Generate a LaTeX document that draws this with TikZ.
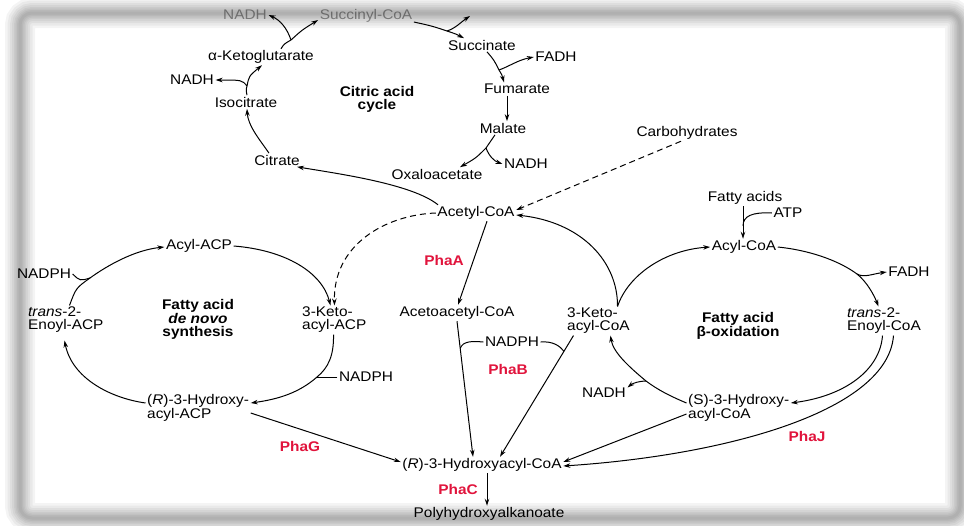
\documentclass[tikz,border=0pt]{standalone}
\usepackage{fontspec}
\setmainfont{Liberation Sans}[FakeStretch=1.1]
\usetikzlibrary{arrows.meta,calc}
\definecolor{phared}{RGB}{225,20,60}
\newcommand\fs{\fontsize{14}{13}\selectfont}
\begin{document}
\begin{tikzpicture}[x=1pt,y=-1pt,
  lbl/.style={inner sep=1.5pt,font=\fs},
  ml/.style={lbl,align=left,anchor=west},
  cl/.style={inner sep=1pt,font=\fs\bfseries,align=center},
  enz/.style={inner sep=1pt,font=\fs\bfseries,text=phared},
  arr/.style={line width=1pt,-{Stealth[length=7pt,width=4.5pt]}},
  ln/.style={line width=1pt},
  dsh/.style={arr,dash pattern=on 6pt off 4pt},
  faded/.style={lbl,text=black!40}]
\useasboundingbox (0,0) rectangle (964,525);
\fill[white] (0,0) rectangle (964,525);

% ---------- citric acid cycle ----------
\node[faded] (nadhA) at (245,15) {NADH};
\node[faded] (succoa) at (366,16) {Succinyl-CoA};
\node[lbl] (akg) at (261,57) {α-Ketoglutarate};
\node[lbl] (nadhB) at (192,80) {NADH};
\node[lbl] (isocit) at (246,102) {Isocitrate};
\node[lbl] (citrate) at (277,160) {Citrate};
\node[lbl] (oaa) at (437,174) {Oxaloacetate};
\node[lbl] (malate) at (503,128) {Malate};
\node[lbl] (nadhC) at (526,164) {NADH};
\node[lbl] (fumarate) at (517,89) {Fumarate};
\node[lbl] (succinate) at (482,45) {Succinate};
\node[lbl] (fadhA) at (556,57) {FADH};
\node[cl] (tca) at (377,99) {Citric acid\\cycle};

\draw[arr] ([xshift=-8pt]citrate.north) .. controls (260,140) and (248,126) .. ([xshift=1pt]isocit.south);

\coordinate (b1) at (247,86);
\draw[arr] ([xshift=1pt]isocit.north) .. controls (246,90) .. (b1) .. controls (249,76) .. ([xshift=1pt]akg.south);
\draw[arr] (b1) .. controls (242,80) .. (nadhB.east);

\coordinate (b2) at (291,40);
\draw[arr] ([xshift=20pt]akg.north) .. controls (284,44) .. (b2) .. controls (302,30) .. ([yshift=-4pt]succoa.west);
\draw[arr] (b2) .. controls (287,28) and (280,20) .. (nadhA.east);

\coordinate (b3) at (447,31);
\coordinate (e1) at (470,16);
\draw[arr] ([yshift=-6pt]succoa.east) .. controls (432,26) .. (b3) .. controls (456,34) .. ([xshift=-18pt]succinate.north);
\draw[arr] (b3) .. controls (456,28) and (461,22) .. (e1);

\coordinate (b4) at (499,70);
\draw[arr] ([xshift=5pt]succinate.south) .. controls (494,60) .. (b4) .. controls (502,75) .. ([xshift=-13pt]fumarate.north);
\draw[arr] (b4) .. controls (510,66) and (518,60) .. (fadhA.west);

\draw[arr] ([xshift=-10pt]fumarate.south) -- ([xshift=4pt]malate.north);

\coordinate (b5) at (486,148);
\draw[arr] ([xshift=-8pt]malate.south) .. controls (491,141) .. (b5) .. controls (476,158) .. ([xshift=23pt]oaa.north);
\draw[arr] (b5) .. controls (489,156) and (494,161) .. (nadhC.west);

% ---------- central nodes ----------
\node[lbl] (acetyl) at (476,213) {Acetyl-CoA};
\node[lbl] (carbo) at (687,133) {Carbohydrates};
\node[lbl] (acetoacetyl) at (457,313) {Acetoacetyl-CoA};
\node[lbl] (nadphC) at (512,342) {NADPH};
\node[lbl] (hydroxyacyl) at (482,465) {(\textit{R})-3-Hydroxyacyl-CoA};
\node[lbl] (pha) at (489,514) {Polyhydroxyalkanoate};
\node[enz] (phaA) at (444,260) {PhaA};
\node[enz] (phaB) at (508,369) {PhaB};
\node[enz] (phaG) at (300,446) {PhaG};
\node[enz] (phaJ) at (807,436) {PhaJ};
\node[enz] (phaC) at (458,489) {PhaC};

\draw[arr] ([xshift=-38pt]acetyl.north) .. controls (412,184) and (340,174) .. ([xshift=20pt]citrate.south);
\draw[dsh] ([xshift=-6pt]carbo.south) -- ([yshift=3pt]acetyl.east);
\draw[arr] ([xshift=11pt]acetyl.south) -- ([xshift=1pt]acetoacetyl.north);

% ---------- fatty acid de novo synthesis ----------
\node[lbl] (acylacp) at (199,246) {Acyl-ACP};
\node[lbl] (nadphA) at (44,274) {NADPH};
\node[ml] (enoylacp) at (26.5,320) {\textit{trans}-2-\\Enoyl-ACP};
\node[cl] (denovo) at (198,319) {Fatty acid\\\textit{de novo}\\synthesis};
\node[ml] (ketoacp) at (300.5,320) {3-Keto-\\acyl-ACP};
\node[lbl] (nadphB) at (366,377) {NADPH};
\node[ml] (hydroxyR) at (145.5,408) {(\textit{R})-3-Hydroxy-\\acyl-ACP};

\draw[dsh] (acetyl.west) .. controls (385,215) and (333,245) .. ([xshift=34pt]ketoacp.north west);

\coordinate (b7) at (90,278);
\draw[arr] ([xshift=43pt]enoylacp.north west) .. controls (76,288) .. (b7) .. controls (108,265) and (135,250) .. ([yshift=-1pt]acylacp.west);
\draw[ln] (nadphA.east) .. controls (80,281) .. (b7);

\draw[arr] (acylacp.east) .. controls (285,250) and (322,272) .. ([xshift=30pt]ketoacp.north west);

\coordinate (b8) at (317,377);
\draw[arr] ([xshift=33pt]ketoacp.south west) .. controls (334,356) and (328,368) .. (b8) .. controls (300,392) and (280,399) .. ([yshift=5pt]hydroxyR.east);
\draw[ln] (nadphB.west) -- (b8);

\draw[arr] ([yshift=5pt]hydroxyR.west) .. controls (110,398) and (72,378) .. ([xshift=38pt,yshift=-6pt]enoylacp.south west);

\draw[arr] ([yshift=-5pt]hydroxyR.east) -- ([yshift=3pt]hydroxyacyl.west);

% ---------- fatty acid beta-oxidation ----------
\node[lbl] (fattyacids) at (745,198) {Fatty acids};
\node[lbl] (atp) at (788,213) {ATP};
\node[lbl] (acylcoa) at (744,247) {Acyl-CoA};
\node[lbl] (fadhB) at (909,272) {FADH};
\node[ml] (enoylcoa) at (845.5,321) {\textit{trans}-2-\\Enoyl-CoA};
\node[ml] (ketocoa) at (565.5,321) {3-Keto-\\acyl-CoA};
\node[cl] (beta) at (738,326) {Fatty acid\\β-oxidation};
\node[ml] (hydroxyS) at (686.5,408) {(S)-3-Hydroxy-\\acyl-CoA};
\node[lbl] (nadhD) at (604,393) {NADH};

\draw[arr] ([xshift=-2pt]fattyacids.south) -- ([xshift=-1pt]acylcoa.north);
\coordinate (b11) at (743,226);
\draw[ln] (atp.west) .. controls (752,212) and (743,216) .. (b11);

\coordinate (b12) at (857,274);
\draw[arr] (acylcoa.east) .. controls (808,250) and (838,260) .. (b12) .. controls (867,282) and (874,295) .. ([xshift=33pt]enoylcoa.north west);
\draw[arr] (b12) .. controls (864,278) and (872,274) .. (fadhB.west);

\draw[arr] ([xshift=37pt]enoylcoa.south west) .. controls (880,370) and (845,396) .. ([yshift=5pt]hydroxyS.east);

\coordinate (b13) at (646,381);
\draw[arr] ([yshift=5pt]hydroxyS.west) .. controls (670,396) and (658,390) .. (b13) .. controls (628,366) and (613,352) .. ([xshift=45pt]ketocoa.south west);
\draw[arr] (b13) .. controls (640,381) and (633,383) .. ([yshift=-1pt]nadhD.north east);

\draw[arr] ([xshift=52pt]ketocoa.north west) .. controls (618,262) and (582,222) .. ([yshift=-2pt]acetyl.east);
\draw[arr] ([xshift=52pt]ketocoa.north west) .. controls (628,275) and (665,250) .. (acylcoa.west);

% ---------- PHA synthesis ----------
\coordinate (t1) at ([xshift=-9pt]hydroxyacyl.north);
\coordinate (t2) at ([xshift=18pt]hydroxyacyl.north);
\coordinate (s2) at ([xshift=8pt]ketocoa.south west);
\draw[arr] (acetoacetyl.south) -- (t1);
\draw[arr] (s2) -- (t2);
\coordinate (b9) at ($(acetoacetyl.south)!0.2!(t1)$);
\coordinate (b10) at ($(s2)!0.13!(t2)$);
\draw[ln] (b9) .. controls (463,341) and (472,341) .. (nadphC.west);
\draw[ln] (nadphC.east) .. controls (553,341) and (560,346) .. (b10);

\draw[arr] ([yshift=-6pt]hydroxyS.west) -- ([yshift=3pt]hydroxyacyl.east);
\draw[arr] ([xshift=48pt]enoylcoa.south west) .. controls (888,410) and (730,455) .. ([yshift=-1pt]hydroxyacyl.east);
\draw[arr] ([xshift=5pt]hydroxyacyl.south) -- ([xshift=-2pt]pha.north);

% ---------- frame shadow ----------
\foreach \w in {30,25,20,16,12,9,6,3}
  \draw[line width=\w pt, black, opacity=0.045, rounded corners=12pt] (20,13) rectangle (960,518);
\end{tikzpicture}
\end{document}
